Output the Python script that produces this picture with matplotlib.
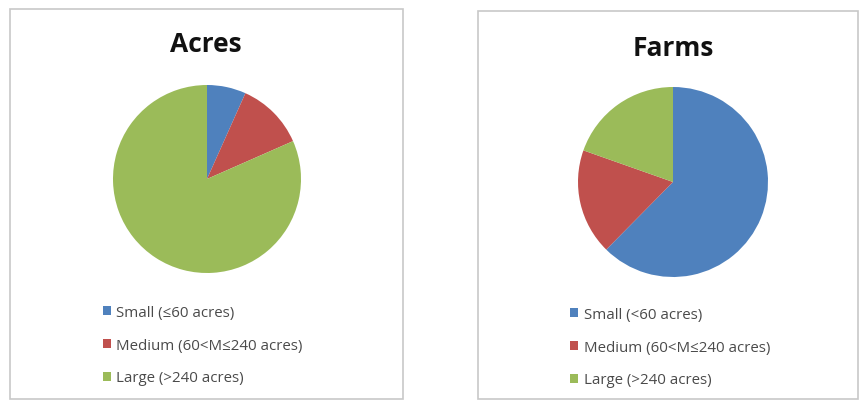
import matplotlib
matplotlib.use("Agg")
import matplotlib.pyplot as plt
from matplotlib.patches import Rectangle

plt.rcParams.update({
    "font.family": ["Open Sans", "DejaVu Sans"],
    "figure.facecolor": "white",
})

# data (shares, percent)
categories = ["Small", "Medium", "Large"]
acres_labels = ["Small (\u226460 acres)", "Medium (60<M\u2264240 acres)", "Large (>240 acres)"]
farms_labels = ["Small (<60 acres)", "Medium (60<M\u2264240 acres)", "Large (>240 acres)"]
acres_share = [6.7, 11.7, 81.6]
farms_share = [62.4, 18.0, 19.6]
colors = ["#4F81BD", "#C0504D", "#9BBB59"]

W, H = 860, 402
fig = plt.figure(figsize=(W / 100, H / 100), dpi=100)


def px_box(x0, y0, w, h):
    # pixel box (top-left origin) -> figure fraction
    return [x0 / W, (H - y0 - h) / H, w / W, h / H]


def panel(frame, pie_box, title, title_xy, values, labels, leg_xy):
    fx, fy, fw, fh = px_box(*frame)
    fig.patches.append(Rectangle((fx, fy), fw, fh, transform=fig.transFigure,
                                 fill=False, edgecolor="#c8c8c8", lw=1.2))
    ax = fig.add_axes(px_box(*pie_box))
    wedges, _ = ax.pie(values, colors=colors, startangle=90, counterclock=False,
                       wedgeprops=dict(linewidth=0))
    ax.set_xlim(-1.0, 1.0); ax.set_ylim(-1.0, 1.0)
    ax.set_aspect("equal")
    fig.text(title_xy[0] / W, 1 - title_xy[1] / H, title, ha="center", va="center",
             fontsize=19, fontweight="bold", color="#111111")
    fig.legend(wedges, labels, loc="upper left",
               bbox_to_anchor=(leg_xy[0] / W, 1 - leg_xy[1] / H),
               frameon=False, fontsize=10.8, labelcolor="#4a4a4a",
               handlelength=0.55, handleheight=0.55, handletextpad=0.35,
               labelspacing=1.18, borderpad=0, borderaxespad=0)


panel((10, 10, 393, 390), (113, 86, 188, 188), "Acres", (206, 44),
      acres_share, acres_labels, (103, 306))
panel((478, 12, 380, 388), (578, 88, 190, 190), "Farms", (673, 48),
      farms_share, farms_labels, (570, 308))

fig.savefig("out.png", dpi=100)
